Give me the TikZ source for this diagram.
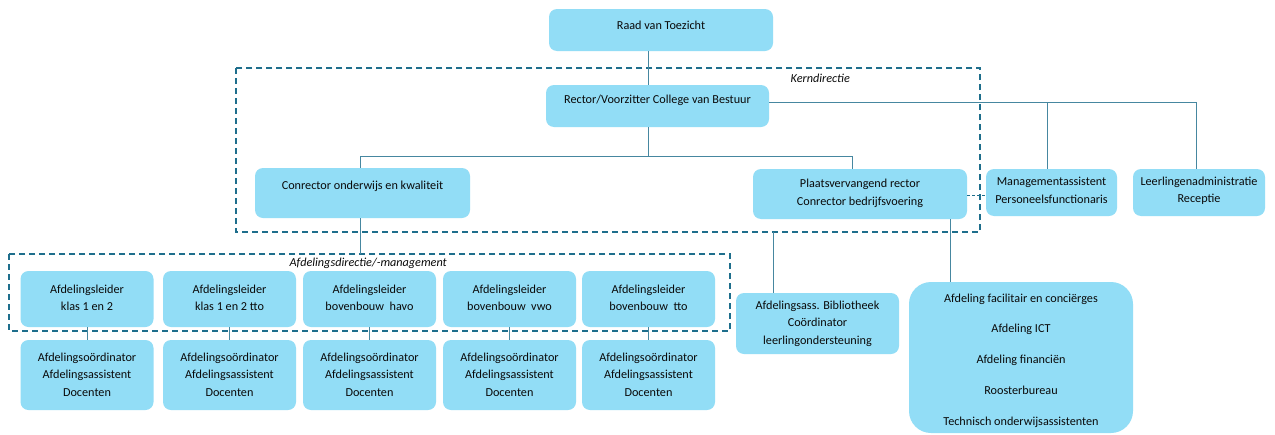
\documentclass[tikz,border=0pt]{standalone}
\usepackage{fontspec}
\setmainfont{Carlito}
\definecolor{boxfill}{RGB}{146,221,246}
\definecolor{linec}{RGB}{70,135,160}
\definecolor{dashc}{RGB}{30,110,140}
\definecolor{txtc}{RGB}{10,10,10}
\begin{document}
\begin{tikzpicture}[x=1pt,y=-1pt,
  box/.style={fill=boxfill, draw=none, rounded corners=8pt, inner sep=0pt, anchor=center},
  bigbox/.style={box, rounded corners=22pt},
  txt/.style={text=txtc, align=center, inner sep=0pt, font=\fontsize{12.2}{17.5}\selectfont},
  conn/.style={draw=linec, line width=0.9pt},
  group/.style={draw=dashc, line width=1.4pt, dash pattern=on 6pt off 4pt},
  grouplabel/.style={text=txtc, inner sep=0pt, font=\fontsize{12.2}{14}\selectfont\itshape},
  dotconn/.style={draw=dashc, line width=0.9pt, dash pattern=on 3pt off 2pt}]
\useasboundingbox (0,0) rectangle (1275,434);
\fill[white] (0,0) rectangle (1275,434);

% group frames
\draw[group] (236,68) rectangle (980,232);
\node[grouplabel, anchor=east] (kernlbl) at (850,78) {Kerndirectie};
\coordinate (kernbot) at (773,232);
\draw[group] (9,254) rectangle (730,331);
\node[grouplabel, anchor=east] (afdlbl) at (447,263) {Afdelingsdirectie/-management};
\coordinate (afdtop) at (360,254);

% top boxes
\node[box, minimum width=224pt, minimum height=42pt] (raad) at (661,30) {};
\node[txt] (raadT) at (661,25) {Raad van Toezicht};
\node[box, minimum width=223pt, minimum height=42pt] (rector) at (657.5,106) {};
\node[txt] (rectorT) at (657.5,100) {Rector/Voorzitter College van Bestuur};
\node[box, minimum width=215pt, minimum height=50pt] (cok) at (362.5,193) {};
\node[txt] (cokT) at (362.5,186) {Conrector onderwijs en kwaliteit};
\node[box, minimum width=214pt, minimum height=50pt] (pvr) at (860,194) {};
\node[txt] (pvrT) at (860,193.5) {Plaatsvervangend rector\\Conrector bedrijfsvoering};
\node[box, minimum width=131pt, minimum height=47pt] (mgmt) at (1051.5,192.5) {};
\node[txt] (mgmtT) at (1051.5,190.5) {Managementassistent\\Personeelsfunctionaris};
\node[box, minimum width=132pt, minimum height=47pt] (lla) at (1199,192.5) {};
\node[txt] (llaT) at (1199,190.5) {Leerlingenadministratie\\Receptie};

% department leaders and staff
\foreach \n/\cx/\t in {1/87/{klas 1 en 2}, 2/229.5/{klas 1 en 2 tto}, 3/369.5/{bovenbouw~ havo}, 4/509.5/{bovenbouw~ vwo}, 5/648.5/{bovenbouw~ tto}}{
  \node[box, minimum width=133pt, minimum height=56pt] (lead\n) at (\cx,299) {};
  \node[txt] (lead\n T) at (\cx,298) {Afdelingsleider\\\t};
  \node[box, minimum width=133pt, minimum height=70pt] (staff\n) at (\cx,375) {};
  \node[txt] (staff\n T) at (\cx,374.5) {Afdelingsoördinator\\Afdelingsassistent\\Docenten};
  \draw[conn] (lead\n.south) -- (staff\n.north);
}

\node[box, minimum width=163pt, minimum height=61pt] (bib) at (817.5,323.5) {};
\node[txt] (bibT) at (817.5,323.5) {Afdelingsass. Bibliotheek\\Coördinator\\leerlingondersteuning};
\node[bigbox, minimum width=224pt, minimum height=151pt] (fac) at (1021,357.5) {};
\node[txt, font=\fontsize{12.2}{30.75}\selectfont] (facT) at (1021,360.5) {Afdeling facilitair en conciërges\\Afdeling ICT\\Afdeling financiën\\Roosterbureau\\Technisch onderwijsassistenten};

% connectors
\draw[conn] (raad.south -| 648,0) -- (rector.north -| 648,0);
\draw[conn] (rector.south -| 648,0) -- (648,156) -- (360,156) -- (cok.north -| 360,0);
\draw[conn] (648,156) -- (852,156) -- (pvr.north -| 852,0);
\draw[conn] (rector.east |- 0,102) -- (1196,102) -- (lla.north -| 1196,0);
\draw[conn] (1047,102) -- (mgmt.north -| 1047,0);
\draw[dotconn] (pvr.east |- 0,195) -- (mgmt.west |- 0,195);
\draw[conn] (cok.south -| 360,0) -- (afdtop);
\draw[conn] (kernbot) -- (bib.north -| kernbot);
\draw[conn] (pvr.south -| 950,0) -- (fac.north -| 950,0);
\end{tikzpicture}
\end{document}
